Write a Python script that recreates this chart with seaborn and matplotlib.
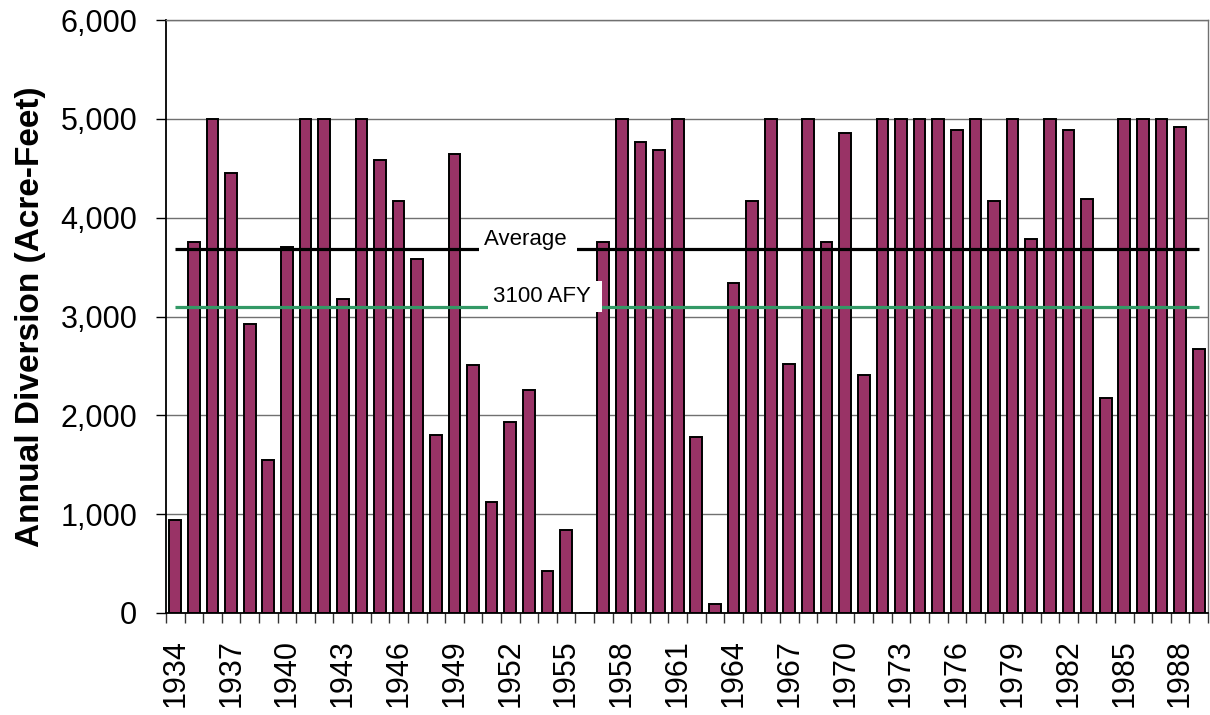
import matplotlib
matplotlib.use('Agg')
import matplotlib.pyplot as plt
import seaborn as sns
import pandas as pd
import numpy as np
from matplotlib.ticker import FuncFormatter

years = list(range(1934, 1990))
diversion = [945, 3750, 5000, 4450, 2920, 1550, 3700, 5000, 5000, 3180,
             5000, 4580, 4170, 3580, 1800, 4640, 2510, 1120, 1935, 2260,
             420, 840, 0, 3750, 5000, 4770, 4680, 5000, 1780, 95,
             3340, 4170, 5000, 2515, 5000, 3750, 4860, 2405, 5000, 5000,
             5000, 5000, 4890, 5000, 4170, 5000, 3780, 5000, 4890, 4190,
             2180, 5000, 5000, 5000, 4920, 2670]
threshold = 3100
average = float(np.mean(diversion))
tick_labels = [str(y) for y in years[::3]]
y_ticks = [0, 1000, 2000, 3000, 4000, 5000, 6000]

sns.set_style('white')
plt.rcParams['font.family'] = ['Liberation Sans', 'DejaVu Sans']
plt.rcParams['text.color'] = 'black'
plt.rcParams['axes.labelcolor'] = 'black'
plt.rcParams['xtick.color'] = 'black'
plt.rcParams['ytick.color'] = 'black'

df = pd.DataFrame({'year': [str(y) for y in years], 'value': diversion})

fig = plt.figure(figsize=(12.1, 7.15), dpi=100)
ax = fig.add_axes([166/1210, 1 - 613/715, (1208 - 166)/1210, (613 - 20)/715])

sns.barplot(data=df, x='year', y='value', order=df['year'].tolist(),
            color='#993366', saturation=1, width=0.63,
            edgecolor='black', linewidth=1.4, ax=ax, zorder=2)

n = len(years)
ax.hlines(average, 0, n - 1, color='black', lw=2.3, zorder=3)
ax.hlines(threshold, 0, n - 1, color='#339966', lw=2.3, zorder=3)

ax.text(18.96, 3724, 'Average ', fontsize=16, ha='center', va='baseline', color='black',
        zorder=4, bbox=dict(boxstyle='square,pad=0.22', facecolor='white', edgecolor='none'))
ax.text(19.87, 3147, '3100 AFY ', fontsize=16, ha='center', va='baseline', color='black',
        zorder=4, bbox=dict(boxstyle='square,pad=0.22', facecolor='white', edgecolor='none'))

ax.set_xlim(-0.5, n - 0.5)
ax.set_ylim(0, 6000)
ax.set_yticks(y_ticks)
ax.yaxis.set_major_formatter(FuncFormatter(lambda v, p: f'{v:,.0f}'))
ax.set_xticks(list(range(0, n, 3)))
ax.set_xticklabels(tick_labels, rotation=90)
ax.set_xticks(np.arange(-0.5, n, 1), minor=True)
ax.tick_params(axis='x', which='major', length=0, pad=19, labelsize=22, labelcolor='black')
ax.tick_params(axis='x', which='minor', length=7.2, width=1, color='#333333', direction='out', bottom=True)
ax.tick_params(axis='y', which='major', length=7.2, width=1, color='black', direction='out', left=True,
               pad=13.5, labelsize=22, labelcolor='black')

ax.yaxis.grid(True, color='#707070', lw=1)
ax.xaxis.grid(False)
ax.set_axisbelow(True)

for s in ['left', 'bottom']:
    ax.spines[s].set_color('black')
    ax.spines[s].set_linewidth(1.3)
for s in ['top', 'right']:
    ax.spines[s].set_color('#707070')
    ax.spines[s].set_linewidth(1)

ax.set_xlabel('')
ax.set_ylabel('Annual Diversion (Acre-Feet)', fontsize=24, fontweight='bold', labelpad=10, color='black')

fig.savefig('out.png', dpi=100)
